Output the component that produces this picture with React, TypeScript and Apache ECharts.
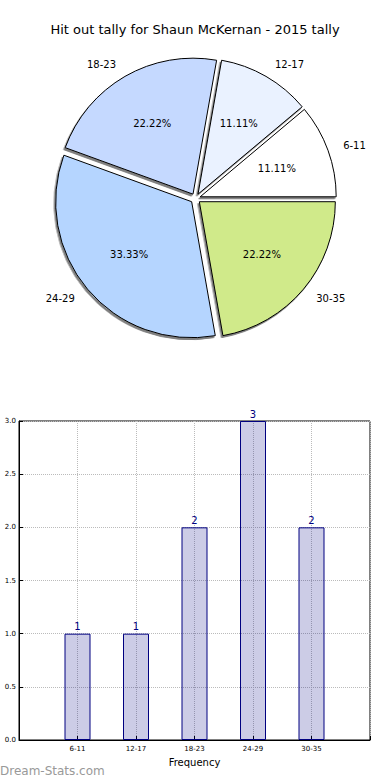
import React, { useEffect, useRef } from "react";
import * as echarts from "echarts";

const TITLE = "Hit out tally for Shaun McKernan - 2015 tally";
const categories = ["6-11", "12-17", "18-23", "24-29", "30-35"];
const counts = [1, 1, 2, 3, 2];
const sliceColors = ["#ffffff", "#eaf2ff", "#c5d9ff", "#b5d5ff", "#d0ea8a"];
const yTicks = [0, 0.5, 1, 1.5, 2, 2.5, 3];
const X_NAME = "Frequency";
const WATERMARK = "Dream-Stats.com";

const FONT = "DejaVu Sans";

export default function App() {
  const ref = useRef<HTMLDivElement>(null);
  useEffect(() => {
    document.body.style.margin = "0";
    const chart = echarts.init(ref.current!, null, { renderer: "svg" });
    const total = counts.reduce((a, b) => a + b, 0);
    const R = 136;
    const cx = 195.5;
    const cy = 198.5;
    const pieData = categories.map((c, i) => ({
      name: c,
      value: counts[i],
      selected: true,
      itemStyle: { color: sliceColors[i] },
    }));
    const overlayData = categories.map((c, i) => ({
      name: c,
      value: counts[i],
      selected: true,
    }));
    const xCats = ["", ...categories, ""];
    const barData = [null, ...counts, null];

    chart.setOption({
      animation: false,
      title: {
        text: TITLE,
        left: "center",
        top: 18,
        textStyle: { fontFamily: FONT, fontSize: 13, fontWeight: "normal", color: "#000" },
      },
      graphic: [
        {
          type: "text",
          left: 0,
          bottom: 3,
          style: { text: WATERMARK, font: `12px "${FONT}"`, fill: "#999" },
        },
      ],
      grid: {
        left: 19,
        top: 421,
        width: 351,
        height: 319,
        show: true,
        borderColor: "#000",
        borderWidth: 1,
      },
      xAxis: {
        type: "category",
        data: xCats,
        boundaryGap: false,
        axisLine: { lineStyle: { color: "#000" } },
        axisTick: { show: true, inside: true, length: 4, lineStyle: { color: "#000" } },
        axisLabel: { fontFamily: FONT, fontSize: 7, color: "#000", margin: 5, interval: 0 },
        splitLine: { show: true, lineStyle: { type: "dotted", color: "#bbb" } },
        name: X_NAME,
        nameLocation: "middle",
        nameGap: 17,
        nameTextStyle: { fontFamily: FONT, fontSize: 10, color: "#000" },
      },
      yAxis: {
        type: "value",
        min: yTicks[0],
        max: yTicks[yTicks.length - 1],
        interval: 0.5,
        axisLine: { show: true, lineStyle: { color: "#000" } },
        axisTick: { show: true, inside: true, length: 4, lineStyle: { color: "#000" } },
        axisLabel: {
          fontFamily: FONT,
          fontSize: 7,
          color: "#000",
          margin: 3,
          formatter: (v: number) => v.toFixed(1),
        },
        splitLine: { show: true, lineStyle: { type: "dotted", color: "#bbb" } },
      },
      series: [
        {
          type: "pie",
          center: [cx, cy],
          radius: R,
          startAngle: 0,
          clockwise: false,
          selectedMode: "multiple",
          selectedOffset: 5,
          avoidLabelOverlap: false,
          data: pieData,
          itemStyle: {
            borderColor: "#000",
            borderWidth: 1,
            shadowColor: "rgba(0,0,0,0.5)",
            shadowBlur: 1,
            shadowOffsetX: -1.5,
            shadowOffsetY: 2,
          },
          label: {
            show: true,
            position: "outside",
            formatter: "{b}",
            fontFamily: FONT,
            fontSize: 10,
            color: "#000",
            distanceToLabelLine: 0,
          },
          labelLine: { show: false, length: 14, length2: 2 },
          emphasis: { disabled: true },
          select: { itemStyle: { borderColor: "#000", borderWidth: 1 } },
        },
        {
          type: "pie",
          center: [cx, cy],
          radius: 2 * (0.6 * R - 3),
          startAngle: 0,
          clockwise: false,
          selectedMode: "multiple",
          selectedOffset: 5,
          silent: true,
          data: overlayData,
          itemStyle: { color: "rgba(0,0,0,0)", borderWidth: 0 },
          label: {
            show: true,
            position: "inside",
            formatter: (p: any) => ((p.value / total) * 100).toFixed(2) + "%",
            fontFamily: FONT,
            fontSize: 10,
            color: "#000",
            textBorderWidth: 0,
          },
          labelLine: { show: false },
          emphasis: { disabled: true },
          select: { itemStyle: { color: "rgba(0,0,0,0)", borderWidth: 0 } },
        },
        {
          type: "bar",
          data: barData,
          barWidth: 26,
          itemStyle: {
            color: "rgba(0,0,128,0.2)",
            borderColor: "#000080",
            borderWidth: 1,
          },
          label: {
            show: true,
            position: "top",
            distance: 2,
            fontFamily: FONT,
            fontSize: 10,
            color: "#000080",
          },
          emphasis: { disabled: true },
        },
      ],
    });
    return () => chart.dispose();
  }, []);
  return <div ref={ref} style={{ width: 390, height: 780, position: "absolute", left: 0, top: 0 }} />;
}
